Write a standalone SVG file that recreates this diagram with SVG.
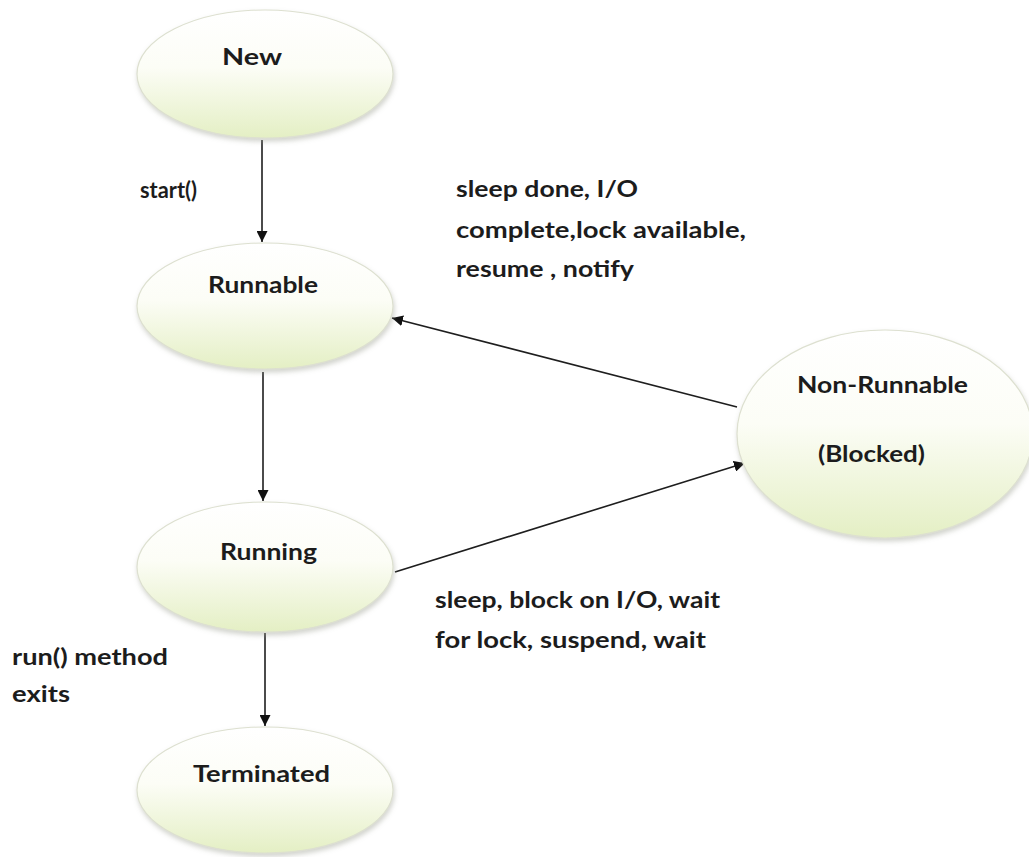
<svg xmlns="http://www.w3.org/2000/svg" width="1029" height="857" viewBox="0 0 1029 857">
<style>
.node{fill:url(#g);stroke:#dde0d0;stroke-width:1.2;filter:url(#sh)}
.t{font-family:Lato,"Liberation Sans",sans-serif;font-weight:bold;font-size:23px;fill:#1c1c1c}
.c{stroke:#1e1e1e;stroke-width:1.6;fill:none;marker-end:url(#ah)}
</style>
<defs>
<linearGradient id="g" x1="0" y1="0" x2="0" y2="1">
<stop offset="0" stop-color="#ffffff"/>
<stop offset="0.45" stop-color="#fcfdf6"/>
<stop offset="1" stop-color="#e4efc4"/>
</linearGradient>
<filter id="sh" x="-10%" y="-10%" width="120%" height="125%">
<feDropShadow dx="1" dy="3" stdDeviation="2.5" flood-color="#9a9e90" flood-opacity="0.45"/>
</filter>
<marker id="ah" viewBox="0 0 10 10" refX="10" refY="5" markerWidth="11" markerHeight="11" markerUnits="userSpaceOnUse" orient="auto">
<path d="M0,0 L10,5 L0,10 z" fill="#111"/>
</marker>
</defs>
<rect width="1029" height="857" fill="#ffffff"/>
<g id="connectors">
<line class="c" x1="262" y1="140" x2="262" y2="242"/>
<line class="c" x1="263" y1="372" x2="263" y2="501"/>
<line class="c" x1="265" y1="633" x2="265" y2="726"/>
<line class="c" x1="737" y1="407" x2="392" y2="318"/>
<line class="c" x1="395" y1="572" x2="745" y2="463"/>
</g>
<g id="node-new">
<ellipse class="node" cx="265" cy="74" rx="128" ry="64"/>
<text class="t" x="222" y="65" textLength="60" lengthAdjust="spacingAndGlyphs">New</text>
</g>
<g id="node-runnable">
<ellipse class="node" cx="265" cy="306" rx="128" ry="63"/>
<text class="t" x="208" y="293" textLength="110" lengthAdjust="spacingAndGlyphs">Runnable</text>
</g>
<g id="node-running">
<ellipse class="node" cx="265" cy="567" rx="128" ry="65"/>
<text class="t" x="220" y="560" textLength="97" lengthAdjust="spacingAndGlyphs">Running</text>
</g>
<g id="node-terminated">
<ellipse class="node" cx="265" cy="790" rx="128" ry="63"/>
<text class="t" x="193" y="782" textLength="137" lengthAdjust="spacingAndGlyphs">Terminated</text>
</g>
<g id="node-nonrunnable">
<ellipse class="node" cx="885" cy="434" rx="148" ry="104"/>
<text class="t" x="797" y="393" textLength="171" lengthAdjust="spacingAndGlyphs">Non-Runnable</text>
<text class="t" x="818" y="462" textLength="107" lengthAdjust="spacingAndGlyphs">(Blocked)</text>
</g>
<g id="labels">
<text class="t" x="140" y="198" textLength="57" lengthAdjust="spacingAndGlyphs">start()</text>
<text class="t" x="456" y="197" textLength="182" lengthAdjust="spacingAndGlyphs">sleep done, I/O</text>
<text class="t" x="456" y="238" textLength="290" lengthAdjust="spacingAndGlyphs">complete,lock available,</text>
<text class="t" x="456" y="277" textLength="178" lengthAdjust="spacingAndGlyphs">resume , notify</text>
<text class="t" x="435" y="608" textLength="285" lengthAdjust="spacingAndGlyphs">sleep, block on I/O, wait</text>
<text class="t" x="435" y="648" textLength="271" lengthAdjust="spacingAndGlyphs">for lock, suspend,  wait</text>
<text class="t" x="12" y="665" textLength="156" lengthAdjust="spacingAndGlyphs">run() method</text>
<text class="t" x="12" y="702" textLength="58" lengthAdjust="spacingAndGlyphs">exits</text>
</g>
</svg>
